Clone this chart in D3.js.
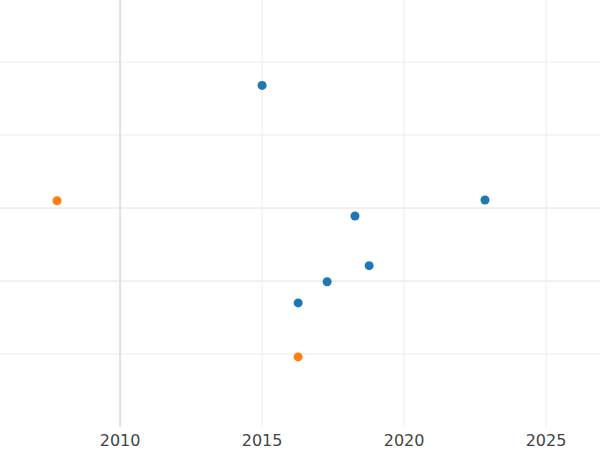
<!DOCTYPE html>
<html><head><meta charset="utf-8">
<script src="https://cdn.jsdelivr.net/npm/d3@7"></script>
<style>body{margin:0;background:#fff}</style>
</head><body><div id="content"></div>
<script>
var width = 600, height = 450
var xTicks = [2010, 2015, 2020, 2025]
var yTicks = [1, 2, 3, 4, 5]
var blueX = [2015.0, 2022.85, 2018.27, 2018.77, 2017.29, 2016.27]
var blueY = [4.68, 3.11, 2.89, 2.21, 1.99, 1.70]
var orangeX = [2007.78, 2016.27]
var orangeY = [3.10, 0.96]

var x = d3.scaleLinear().domain([2005.77, 2026.9]).range([0, 600])
var y = d3.scaleLinear().domain([0, 5.85]).range([427, 0])

var svg = d3.select('#content').append('svg')
    .attr('width', width).attr('height', height)

svg.append('g').selectAll('line').data(yTicks).join('line')
    .attr('x1', 0).attr('x2', width)
    .attr('y1', d => y(d)).attr('y2', d => y(d))
    .attr('stroke', d => (d == 2 || d == 3) ? '#e2e2e2' : '#ececec').attr('stroke-width', 1)

svg.append('g').selectAll('line').data(xTicks).join('line')
    .attr('x1', d => x(d)).attr('x2', d => x(d))
    .attr('y1', 0).attr('y2', 427)
    .attr('stroke', d => d == 2010 ? '#e0e0e0' : '#ececec')
    .attr('stroke-width', d => d == 2010 ? 2 : 1)

svg.append('g').selectAll('text').data(xTicks).join('text')
    .attr('x', d => x(d)).attr('y', 446)
    .attr('text-anchor', 'middle')
    .attr('font-family', 'DejaVu Sans').attr('font-size', 16).attr('fill', '#444')
    .text(d => d)

function dots(xs, ys, color) {
    svg.append('g').selectAll('circle').data(xs).join('circle')
        .attr('cx', d => x(d)).attr('cy', (d, i) => y(ys[i]))
        .attr('r', 4.5).attr('fill', color)
}
dots(blueX, blueY, '#1f77b4')
dots(orangeX, orangeY, '#ff7f0e')
</script></body></html>
